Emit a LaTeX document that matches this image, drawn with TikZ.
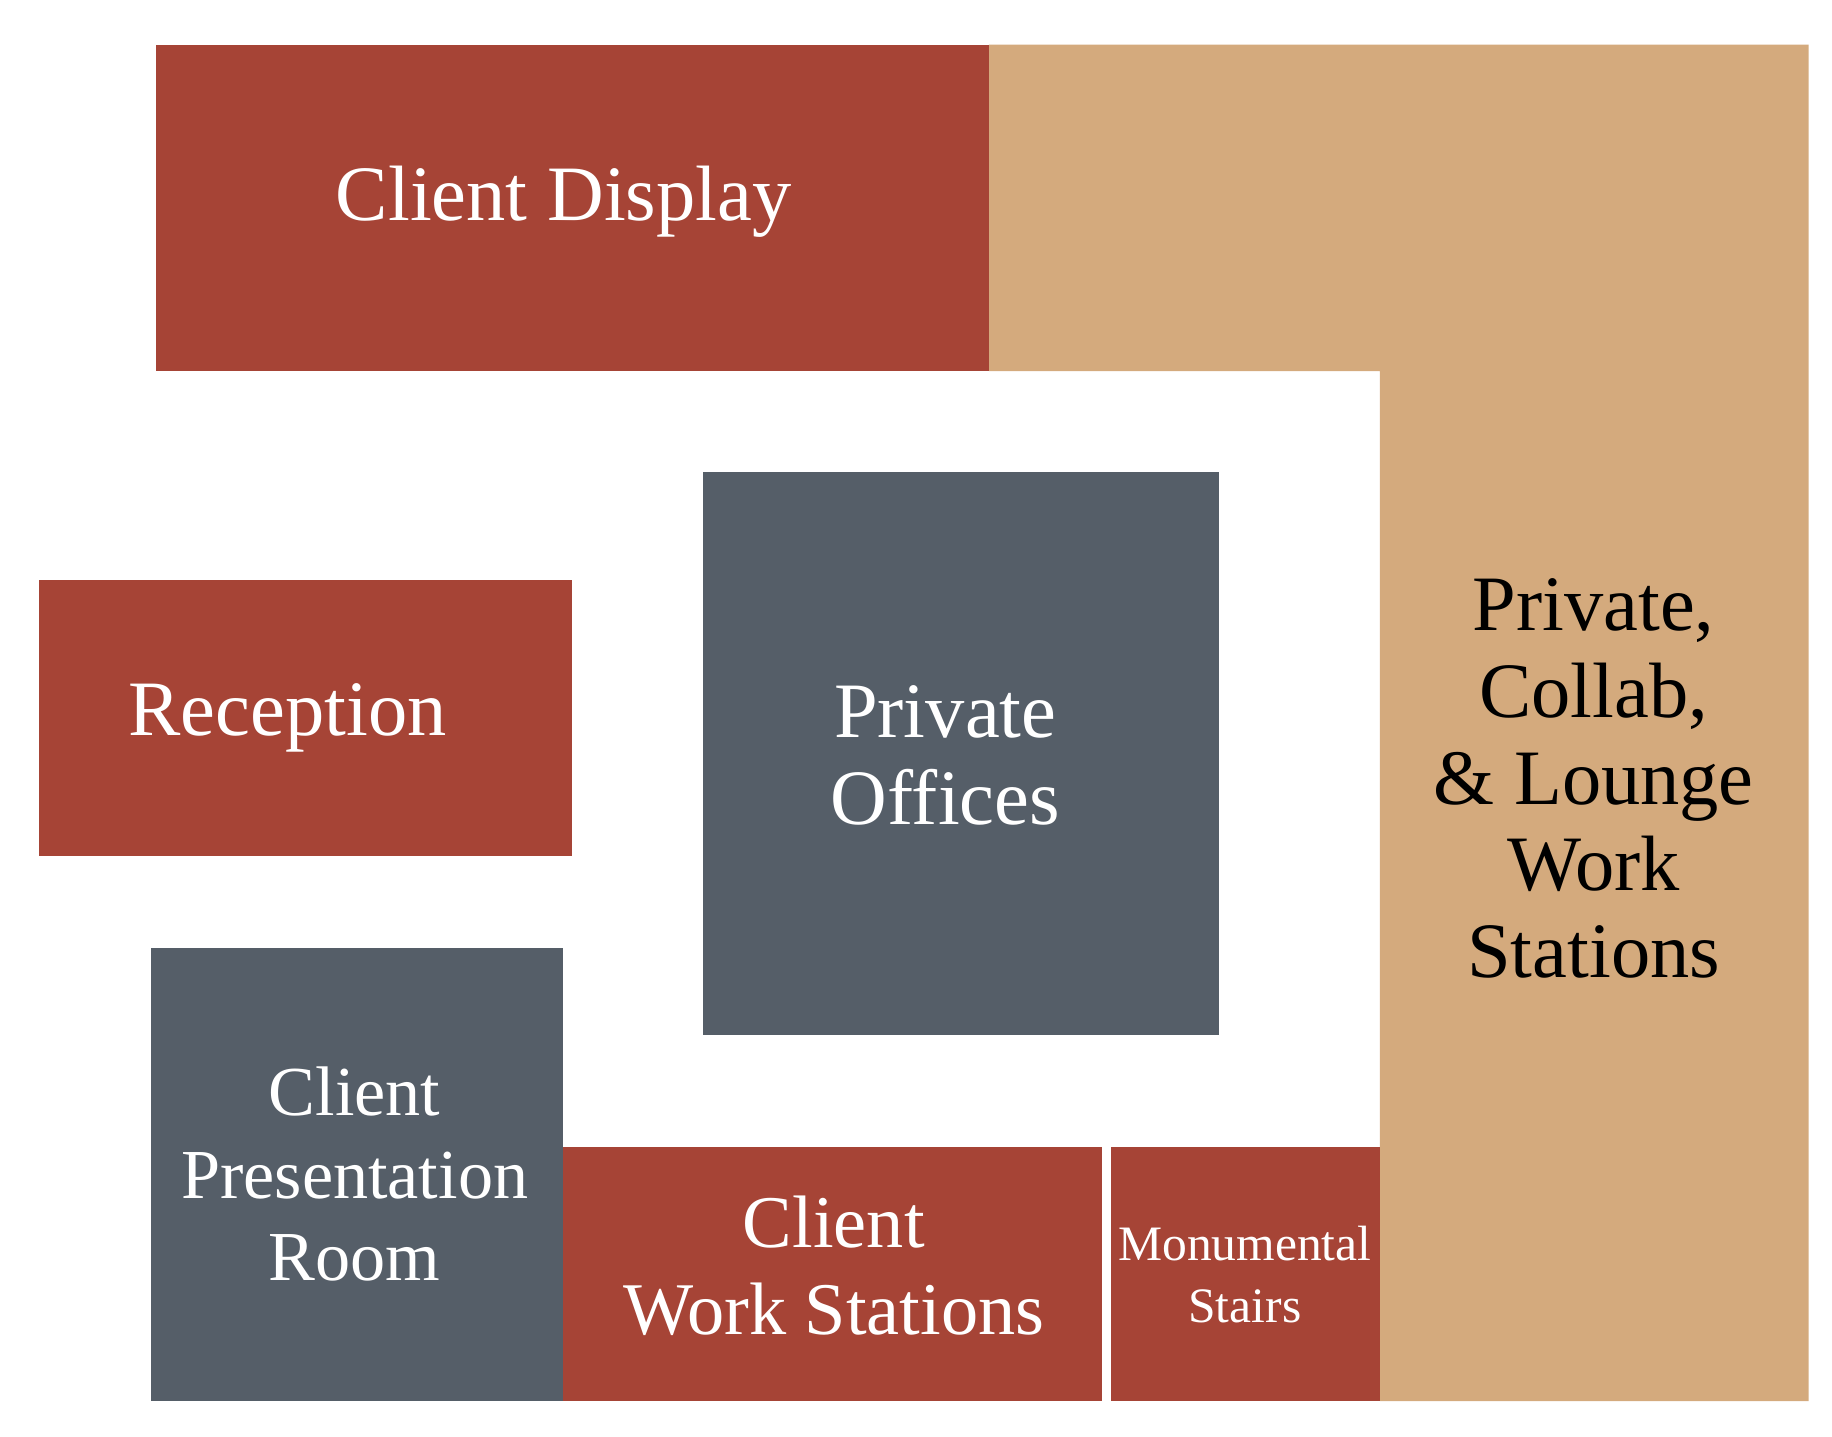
\documentclass[tikz,border=0pt]{standalone}
\usepackage{fontspec}
\setmainfont{Liberation Serif}
\definecolor{zonered}{HTML}{A64436}
\definecolor{zonetan}{HTML}{D4AA7D}
\definecolor{zonegray}{HTML}{555E68}
\tikzset{
  zone/.style={draw=none},
  zonelabel/.style={align=center,text=white,font=\fontsize{19}{21}\selectfont},
}
\begin{document}
\begin{tikzpicture}[x=0.01cm,y=-0.01cm]
      \useasboundingbox (0,0) rectangle (1560,1223);
      % work areas
      \fill[zonetan] (842,38) -- (1540,38) -- (1540,1193) -- (1175,1193) -- (1175,316) -- (842,316) -- cycle;
      \fill[zonered] (133,38) rectangle (842,316);
      \fill[zonered] (33,494) rectangle (487,729);
      \fill[zonegray] (599,402) rectangle (1038,881);
      \fill[zonegray] (129,807) rectangle (479,1193);
      \fill[zonered] (479,977) rectangle (938,1193);
      \fill[zonered] (946,977) rectangle (1175,1193);
      % labels
      \node[zonelabel] (display) at (480,172) {Client Display};
      \node[zonelabel] (reception) at (245,611) {Reception};
      \node[zonelabel] (offices) at (805,643) {Private\\ Offices};
      \node[zonelabel,text=black] (lounge) at (1357,663) {Private,\\ Collab,\\ \& Lounge\\ Work\\ Stations};
      \node[zonelabel,font=\fontsize{17}{20}\selectfont] (presentation) at (302,1000) {Client\\ Presentation\\ Room};
      \node[zonelabel,font=\fontsize{18}{21}\selectfont] (workst) at (710,1078) {Client\\ Work Stations};
      \node[zonelabel,font=\fontsize{12}{15}\selectfont] (stairs) at (1060,1085) {Monumental\\ Stairs};
\end{tikzpicture}
\end{document}
